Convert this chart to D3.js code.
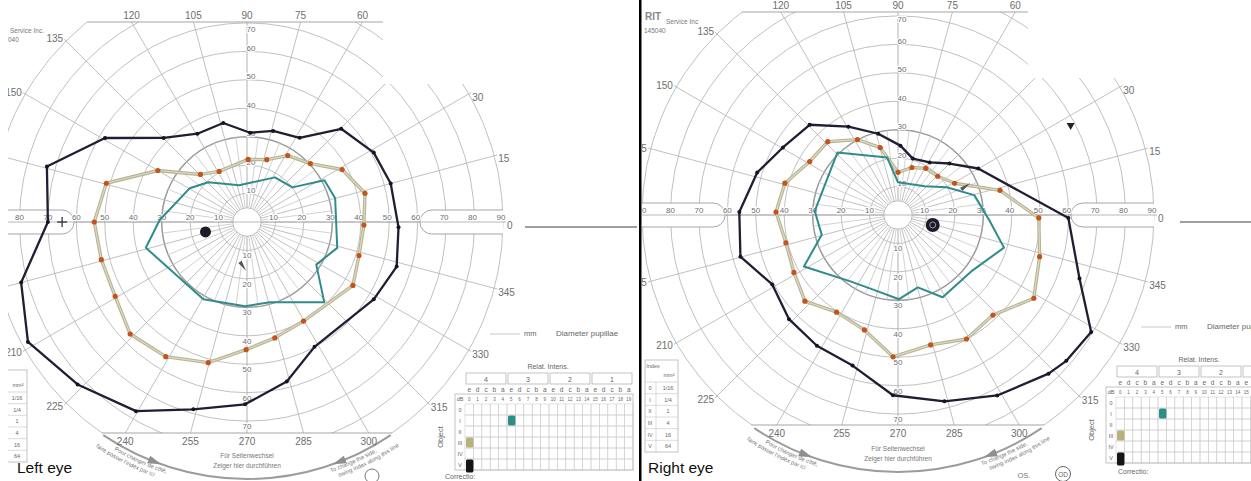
<!DOCTYPE html>
<html><head><meta charset="utf-8">
<script src="https://cdn.jsdelivr.net/npm/d3@7"></script>
<style>
body{margin:0;background:#fff}
svg{display:block;font-family:"Liberation Sans",Arial,Helvetica,sans-serif}
</style>
</head><body>
<svg id="c" width="1251" height="481"></svg>
<script>
// ---------------- DATA ----------------
const ringDegrees = [5, 10, 20, 30, 40, 50, 60, 70, 80, 90];
const ringLabelDegrees = [10, 20, 30, 40, 50, 60, 70, 80, 90];
const ringLabels = ["10", "20", "30", "40", "50", "60", "70", "80", "90"];
const meridianDegrees = [0, 15, 30, 45, 60, 75, 90, 105, 120, 135, 150, 165, 180, 195, 210, 225, 240, 255, 270, 285, 300, 315, 330, 345];
const meridianLabels = ["0", "15", "30", "45", "60", "75", "90", "105", "120", "135", "150", "165", "180", "195", "210", "225", "240", "255", "270", "285", "300", "315", "330", "345"];
const spokeDegrees = [7.5, 22.5, 37.5, 52.5, 67.5, 82.5, 97.5, 112.5, 127.5, 142.5, 157.5, 172.5, 187.5, 202.5, 217.5, 232.5, 247.5, 262.5, 277.5, 292.5, 307.5, 322.5, 337.5, 352.5];

// isopters: [meridian in degrees, eccentricity in degrees]
const leftV4e = [[164.5, 73], [149.4, 58], [134.7, 41.6], [119.3, 35.6], [103.5, 35.8], [88, 31.4], [74, 33.3], [58, 34.9], [44.7, 46.6], [28.7, 50.8], [15, 52.3], [-2, 53.3], [-16.6, 54.9], [-31.4, 52.2], [-61.6, 49.9], [-76, 57.8], [-90.6, 64.1], [-106, 68.5], [-120.4, 77.1], [-136.2, 82.5], [-151.3, 87.8], [-165, 82.2], [-180, 70]];
const leftIII4e = [[164.6, 51.3], [150, 36.2], [134.4, 23.4], [118.8, 20.3], [89, 22], [72.4, 23], [58.5, 27.4], [42.7, 30.3], [28.9, 38.2], [13.7, 42.7], [-1.5, 41.1], [-16.7, 41.1], [-30.9, 43.4], [-60.3, 40.1], [-76.5, 41.9], [-90.4, 44.9], [-105.4, 51.3], [-121.1, 55.3], [-136.2, 56.9], [-150.6, 53.2], [-165.5, 52.9], [180, 53.7]];
const leftI4e = [[149.6, 23.4], [134.3, 19.5], [102, 13.2], [88.5, 13.6], [58, 18.5], [37.3, 20.1], [28.3, 30.9], [15.1, 32.1], [-16, 33], [-31.6, 28.6], [-46.1, 39.2], [-74.1, 29.3], [-91.3, 29.6], [-119.4, 31.2], [-165.7, 36.7], [178.7, 30.7]];
const rightV4e = [[134.4, 44.4], [119.3, 35.6], [103.7, 29.4], [88, 24.4], [75.3, 20.5], [58.9, 21.6], [45, 25.6], [30.1, 32.6], [-1, 59.9], [-19.3, 67.6], [-31.2, 79.4], [-40.9, 78.3], [-46.5, 76.9], [-61.2, 72.4], [-76, 67.5], [-91.6, 63.4], [-106.8, 55.3], [-121.8, 54.1], [-136.3, 53], [-151.1, 50.5], [-165.2, 57.3], [178.9, 55.8], [163.2, 51.7], [149.6, 46.9]];
const rightIII4e = [[133.8, 35.7], [118.3, 30.1], [104.8, 24.5], [90, 15], [73.7, 17.4], [59.2, 19.1], [44.3, 19.5], [29.3, 22.8], [13.6, 36.9], [-1.2, 49.5], [-16.4, 51.9], [-31.5, 56], [-46.5, 48.5], [-61.1, 49.8], [-75.9, 47.1], [-92, 49.9], [-106.3, 42.1], [-122.3, 40.4], [-137.2, 44.6], [-151.1, 41.8], [-166.1, 40.6], [178.6, 42.9], [164.3, 41.3], [148.8, 36.3]];
const rightI4e = [[134.1, 30.6], [100.7, 20.6], [90, 11.5], [47, 13.8], [29.7, 19.7], [14.6, 27.7], [-3.1, 32.1], [-17.1, 39], [-37.6, 32.5], [-61.5, 32.9], [-74.7, 26.4], [-89.3, 29.6], [-106.8, 27.7], [-125.6, 28.7], [-151.3, 37.7], [-165.4, 27.7], [177.3, 29.3], [154.1, 27.9]];
const leftBlindSpot = [193.4, 15];
const rightBlindSpot = [-16, 12.7];
const leftPointer = [260, 14.2];
const rightPointer = [22, 24];
const leftFixMark = [180, 65];
const rightTriMark = [27.3, 68.3];

// stimulus key table
const intensityGroups = ["4", "3", "2", "1"];
const intensityLetters = ["e", "d", "c", "b", "a", "e", "d", "c", "b", "a", "e", "d", "c", "b", "a", "e", "d", "c", "b", "a"];
const dBValues = ["0", "1", "2", "3", "4", "5", "6", "7", "8", "9", "10", "11", "12", "13", "14", "15", "16", "17", "18", "19"];
const objectSizes = ["0", "I", "II", "III", "IV", "V"];
const objectAreas = ["1/16", "1/4", "1", "4", "16", "64"];
const stimulusObjects = ["V", "III", "I"];
const stimulusDb = ["0", "0", "5"];

// ---------------- STYLE ----------------
const isoStyle = {
  V: {stroke: "#1e1e34", width: 2.3},
  III: {stroke: "#b9b48c", width: 3.4, dot: "#c4541c"},
  I: {stroke: "#2f8c8a", width: 2}
};
const stimColors = ["#151515", "#b7b27a", "#2c8f87"];
const gridColor = "#b9b9b9";
const labelColor = "#6e6e6e";

const svg = d3.select("#c");
const W = 1251, H = 481;
const R90 = 256;
const rScale = d3.scaleLinear().domain([0, 90]).range([0, R90]);
const ang = d => (90 - d) * Math.PI / 180;
const pt = (deg, ecc) => d3.pointRadial(ang(deg), rScale(ecc));

const panels = [
  {id: "L", cx: 247, cy: 222, top: 22, bottom: 433, x0: 8, x1: 637, patch: [383, 0, 254, 84],
   v4e: leftV4e, iii4e: leftIII4e, i4e: leftI4e, blind: leftBlindSpot, blindRing: false,
   pointer: leftPointer, title: "Left eye", tx: 17, ext: [525, 637], extY: 5,
   rel: [455, 367], mm: [-6, 370], dia: [490, 334], corr: [445, 479]},
  {id: "R", cx: 898, cy: 215, top: 12, bottom: 425, x0: 642, x1: 1251, patch: [1028, 0, 223, 78],
   v4e: rightV4e, iii4e: rightIII4e, i4e: rightI4e, blind: rightBlindSpot, blindRing: true,
   pointer: rightPointer, title: "Right eye", tx: 648, ext: [1180, 1251], extY: 7,
   rel: [1106, 360], mm: [645, 360], dia: [1141, 327], corr: [1118, 474]}
];

const defs = svg.append("defs");
const inPatch = (p, x, y) => x > p.patch[0] - 4 && x < p.patch[0] + p.patch[2] && y < p.patch[1] + p.patch[3] - 2;

function drawPanel(p) {
  defs.append("clipPath").attr("id", "pc" + p.id).append("rect")
    .attr("x", p.x0).attr("y", 0).attr("width", p.x1 - p.x0).attr("height", H);
  defs.append("clipPath").attr("id", "gc" + p.id).append("rect")
    .attr("x", p.x0).attr("y", p.top).attr("width", p.x1 - p.x0).attr("height", p.bottom - p.top);

  const root = svg.append("g").attr("clip-path", `url(#pc${p.id})`);
  const gridWrap = root.append("g").attr("clip-path", `url(#gc${p.id})`);
  const grid = gridWrap.append("g").attr("transform", `translate(${p.cx},${p.cy})`);

  grid.selectAll("circle.ring").data(ringDegrees).join("circle").attr("class", "ring")
    .attr("r", d => rScale(d)).attr("fill", "none").attr("stroke", d => d === 30 ? "#9a9a9a" : gridColor)
    .attr("stroke-width", d => d === 30 ? 1.5 : 0.9);
  grid.selectAll("line.mer").data(meridianDegrees).join("line").attr("class", "mer")
    .attr("x1", d => pt(d, 5)[0]).attr("y1", d => pt(d, 5)[1])
    .attr("x2", d => pt(d, 91)[0]).attr("y2", d => pt(d, 91)[1])
    .attr("stroke", d => d % 90 === 0 ? "#a8a8a8" : gridColor).attr("stroke-width", 0.9);
  grid.selectAll("line.spk").data(spokeDegrees).join("line").attr("class", "spk")
    .attr("x1", d => pt(d, 5)[0]).attr("y1", d => pt(d, 5)[1])
    .attr("x2", d => pt(d, 30)[0]).attr("y2", d => pt(d, 30)[1])
    .attr("stroke", "#c6c6c6").attr("stroke-width", 0.8);

  // flat top/bottom edges of the form
  const topDx = Math.sqrt(R90 * R90 - (p.cy - p.top) ** 2);
  const botDx = Math.sqrt(R90 * R90 - (p.bottom - p.cy) ** 2);
  root.append("line").attr("x1", p.cx - topDx).attr("x2", p.cx + topDx).attr("y1", p.top).attr("y2", p.top)
    .attr("stroke", "#a5a5a5").attr("stroke-width", 1);
  root.append("line").attr("x1", p.cx - botDx).attr("x2", p.cx + botDx).attr("y1", p.bottom).attr("y2", p.bottom)
    .attr("stroke", "#a5a5a5").attr("stroke-width", 1);

  // slots on horizontal axis (65°..90°)
  const g0 = root.append("g").attr("transform", `translate(${p.cx},${p.cy})`);
  const rs = rScale(65), re = rScale(90), hh = 12;
  g0.append("path").attr("d", `M${re},${-hh}L${rs},${-hh}A${hh},${hh} 0 0 0 ${rs},${hh}L${re},${hh}`)
    .attr("fill", "#fff").attr("stroke", "#a5a5a5").attr("stroke-width", 1);
  g0.append("path").attr("d", `M${-rScale(96)},${-hh}L${-rs},${-hh}A${hh},${hh} 0 0 1 ${-rs},${hh}L${-rScale(96)},${hh}`)
    .attr("fill", "#fff").attr("stroke", "#a5a5a5").attr("stroke-width", 1);
  g0.append("line").attr("x1", -rScale(96)).attr("x2", rScale(90)).attr("y1", 0).attr("y2", 0)
    .attr("stroke", "#b0b0b0").attr("stroke-width", 0.9);

  // ring labels
  const lab = g0.append("g").attr("font-size", 8).attr("fill", labelColor).attr("text-anchor", "middle")
    .attr("stroke", "#fff").attr("stroke-width", 2.4).attr("paint-order", "stroke").attr("dominant-baseline", "central");
  const visible = x => x + 6 > p.x0 && x - 6 < p.x1;
  ringLabelDegrees.forEach((d, i) => {
    if (visible(p.cx + rScale(d) - 2)) lab.append("text").attr("x", rScale(d) - 2).attr("y", -5).text(ringLabels[i]);
    if (visible(p.cx - rScale(d))) lab.append("text").attr("x", -rScale(d)).attr("y", -5).text(ringLabels[i]);
    if (d <= 70) {
      const yTop = Math.max(-(rScale(d) + 3), -(p.cy - p.top) + 7);
      lab.append("text").attr("x", 4).attr("y", yTop).text(ringLabels[i]);
      const yBot = Math.min(rScale(d) + 5.5, p.bottom - p.cy - 6);
      lab.append("text").attr("x", 0).attr("y", yBot).text(ringLabels[i]);
    }
  });

  // meridian labels
  const ml = root.append("g").attr("font-size", 10).attr("fill", labelColor);
  meridianDegrees.forEach((d, i) => {
    const a = d * Math.PI / 180, s = Math.sin(a), c = Math.cos(a);
    let x, y, anchor = "middle";
    if (262 * s > (p.cy - p.top) - 2) {
      const t = (p.cy - p.top) / s; x = p.cx + t * c; y = p.top - 3;
    } else if (-262 * s > (p.bottom - p.cy)) {
      const t = (p.bottom - p.cy) / -s; x = p.cx + t * c; y = p.bottom + 12;
    } else {
      x = p.cx + 260 * c; y = p.cy - 260 * s + 4 + (c > 0 ? 3 + 3 * s : 0);
      anchor = c > 0.3 ? "start" : (c < -0.3 ? "end" : "middle");
    }
    const w = meridianLabels[i].length * 5.6;
    const xl = anchor === "start" ? x : anchor === "end" ? x - w : x - w / 2;
    if (xl + w < p.x0 + 2 || xl > p.x1 - 2) return;
    if (inPatch(p, xl + w / 2, y - 4)) return;
    ml.append("text").attr("x", x).attr("y", y).attr("text-anchor", anchor).text(meridianLabels[i]);
  });

  // extension line to the right of "0"
  root.append("line").attr("x1", p.ext[0]).attr("x2", p.ext[1]).attr("y1", p.cy + p.extY).attr("y2", p.cy + p.extY)
    .attr("stroke", "#808080").attr("stroke-width", 1.5);

  // white patch (erased header)
  root.append("rect").attr("x", p.patch[0]).attr("y", p.patch[1]).attr("width", p.patch[2]).attr("height", p.patch[3]).attr("fill", "#fff");

  // side-change arrow along the 90° arc
  const arcR = 257;
  const arcPath = (r, a0, a1) => {
    const p0 = d3.pointRadial(ang(a0), r), p1 = d3.pointRadial(ang(a1), r);
    return `M${p0[0]},${p0[1]}A${r},${r} 0 0 0 ${p1[0]},${p1[1]}`;
  };
  g0.append("path").attr("d", arcPath(arcR, 236, 304)).attr("fill", "none").attr("stroke", "#9c9c9c").attr("stroke-width", 2);
  [[250.5, 247.5], [289.5, 292.5]].forEach(([tip, base]) => {
    const q = [d3.pointRadial(ang(tip), arcR), d3.pointRadial(ang(base), arcR - 4), d3.pointRadial(ang(base), arcR + 4)];
    g0.append("path").attr("d", "M" + q.join("L") + "Z").attr("fill", "#8f8f8f");
  });
  const tp = [
    {r: 264, a0: 234, a1: 258, t: "Pour changer de côté,"},
    {r: 271, a0: 231, a1: 255, t: "faire passer l'index par ici"},
    {r: 264, a0: 282, a1: 306, t: "To change the side,"},
    {r: 271, a0: 285, a1: 309, t: "swing index along this line"}
  ];
  tp.forEach((d, i) => {
    const id = `tp${p.id}${i}`;
    defs.append("path").attr("id", id).attr("d", arcPath(d.r, d.a0, d.a1))
      .attr("transform", `translate(${p.cx},${p.cy})`);
    root.append("text").attr("font-size", 5.8).attr("fill", "#777").append("textPath")
      .attr("href", "#" + id).attr("startOffset", "50%").attr("text-anchor", "middle").text(d.t);
  });
  g0.append("text").attr("x", 0).attr("y", arcR - 21).attr("text-anchor", "middle").attr("font-size", 6.5).attr("fill", "#777").text("Für Seitenwechsel");
  g0.append("text").attr("x", 0).attr("y", arcR - 11).attr("text-anchor", "middle").attr("font-size", 6.5).attr("fill", "#777").text("Zeiger hier durchführen");

  // isopters
  const iso = root.append("g").attr("transform", `translate(${p.cx},${p.cy})`);
  const line = d3.lineRadial().angle(d => ang(d[0])).radius(d => rScale(d[1])).curve(d3.curveLinearClosed);
  iso.append("path").datum(p.v4e).attr("d", line).attr("fill", "none")
    .attr("stroke", isoStyle.V.stroke).attr("stroke-width", isoStyle.V.width).attr("stroke-linejoin", "round");
  iso.selectAll("circle.v").data(p.v4e).join("circle").attr("class", "v")
    .attr("cx", d => pt(d[0], d[1])[0]).attr("cy", d => pt(d[0], d[1])[1]).attr("r", 2).attr("fill", "#141424");
  iso.append("path").datum(p.iii4e).attr("d", line).attr("fill", "none")
    .attr("stroke", isoStyle.III.stroke).attr("stroke-width", isoStyle.III.width).attr("stroke-linejoin", "round");
  iso.append("path").datum(p.iii4e).attr("d", line).attr("fill", "none")
    .attr("stroke", "#d9d8cf").attr("stroke-width", 1.2).attr("stroke-linejoin", "round");
  iso.selectAll("circle.iii").data(p.iii4e).join("circle").attr("class", "iii")
    .attr("cx", d => pt(d[0], d[1])[0]).attr("cy", d => pt(d[0], d[1])[1]).attr("r", 2.6).attr("fill", isoStyle.III.dot);
  iso.append("path").datum(p.i4e).attr("d", line).attr("fill", "none")
    .attr("stroke", isoStyle.I.stroke).attr("stroke-width", isoStyle.I.width).attr("stroke-linejoin", "round");

  // blind spot
  const bs = pt(p.blind[0], p.blind[1]);
  iso.append("circle").attr("cx", bs[0]).attr("cy", bs[1]).attr("r", p.blindRing ? 7 : 5.5).attr("fill", "#1c1c28");
  if (p.blindRing) iso.append("circle").attr("cx", bs[0]).attr("cy", bs[1]).attr("r", 3).attr("fill", "none").attr("stroke", "#9a9ab0").attr("stroke-width", 1);

  // small pointer mark
  const pp = pt(p.pointer[0], p.pointer[1]);
  const pa = p.id === "L" ? 56 : -35;
  iso.append("path").attr("d", "M0,-2L11,0L0,2Z").attr("fill", "#555")
    .attr("transform", `translate(${pp[0]},${pp[1]}) rotate(${pa})`);

  // stimulus key table (Relat. Intens.)
  const [rx, ry] = p.rel;
  const tbl = root.append("g").attr("font-size", 5.5).attr("fill", "#666").attr("text-anchor", "middle");
  const colX = d3.scaleBand().domain(dBValues).range([rx + 10, rx + 178]);
  const grpX = d3.scaleBand().domain(intensityGroups).range([rx + 10, rx + 178]);
  const rowY = d3.scaleBand().domain(objectSizes).range([ry + 37, ry + 103]);
  tbl.append("text").attr("x", rx + 93).attr("y", ry + 2).attr("font-size", 7).text("Relat. Intens.");
  grpX.domain().forEach(gk => {
    tbl.append("rect").attr("x", grpX(gk) + 1).attr("y", ry + 6).attr("width", grpX.bandwidth() - 2).attr("height", 11)
      .attr("fill", "none").attr("stroke", "#aaa").attr("stroke-width", 0.7);
    tbl.append("text").attr("x", grpX(gk) + grpX.bandwidth() / 2).attr("y", ry + 14.5).attr("font-size", 7).text(gk);
  });
  dBValues.forEach((v, i) => {
    tbl.append("text").attr("x", colX(v) + colX.bandwidth() / 2).attr("y", ry + 24.5).attr("font-size", 6.5).text(intensityLetters[i]);
    tbl.append("text").attr("x", colX(v) + colX.bandwidth() / 2).attr("y", ry + 34).attr("font-size", 4.5).text(v);
  });
  tbl.append("text").attr("x", rx + 5).attr("y", ry + 34).attr("font-size", 5.5).text("dB");
  objectSizes.forEach(o => {
    tbl.append("text").attr("x", rx + 5).attr("y", rowY(o) + rowY.bandwidth() / 2 + 2).attr("font-size", 5.5).text(o);
    dBValues.forEach(v => {
      tbl.append("rect").attr("x", colX(v)).attr("y", rowY(o)).attr("width", colX.bandwidth()).attr("height", rowY.bandwidth())
        .attr("fill", "none").attr("stroke", "#cfcfcf").attr("stroke-width", 0.6);
    });
  });
  tbl.append("rect").attr("x", rx).attr("y", ry + 27).attr("width", 178).attr("height", 76)
    .attr("fill", "none").attr("stroke", "#b5b5b5").attr("stroke-width", 0.8);
  tbl.append("text").attr("transform", `translate(${rx - 12},${ry + 70}) rotate(-90)`).attr("font-size", 7.5).attr("fill", "#666").text("Object");
  stimulusObjects.forEach((o, i) => {
    tbl.append("rect").attr("x", colX(stimulusDb[i]) + 1).attr("y", rowY(o) + 0.5)
      .attr("width", colX.bandwidth() - 1).attr("height", rowY.bandwidth() + (o === "V" ? 2 : -1))
      .attr("rx", 1.5).attr("fill", stimColors[i]);
  });

  // object / mm² table
  const [mx, my] = p.mm;
  const mt = root.append("g").attr("font-size", 5.5).attr("fill", "#666").attr("text-anchor", "middle");
  mt.append("rect").attr("x", mx).attr("y", my).attr("width", 33).attr("height", 92)
    .attr("fill", "none").attr("stroke", "#b5b5b5").attr("stroke-width", 0.8);
  if (mx + 8 > p.x0) mt.append("text").attr("x", mx + 8).attr("y", my + 8).text("Index");
  mt.append("text").attr("x", mx + 24).attr("y", my + 17).text("mm²");
  const mRow = d3.scaleBand().domain(objectSizes).range([my + 22, my + 92]);
  objectSizes.forEach((o, i) => {
    mt.append("line").attr("x1", mx).attr("x2", mx + 33).attr("y1", mRow(o)).attr("y2", mRow(o)).attr("stroke", "#c5c5c5").attr("stroke-width", 0.6);
    if (mx + 5 > p.x0) mt.append("text").attr("x", mx + 5).attr("y", mRow(o) + mRow.bandwidth() / 2 + 2).text(o);
    mt.append("text").attr("x", mx + 23).attr("y", mRow(o) + mRow.bandwidth() / 2 + 2).text(objectAreas[i]);
  });
  mt.append("line").attr("x1", mx + 11).attr("x2", mx + 11).attr("y1", my + 22).attr("y2", my + 92).attr("stroke", "#c5c5c5").attr("stroke-width", 0.6);

  // pupil diameter
  const [dx, dy] = p.dia;
  root.append("line").attr("x1", dx).attr("x2", dx + 30).attr("y1", dy).attr("y2", dy).attr("stroke", "#c8c8c8").attr("stroke-width", 1);
  root.append("text").attr("x", dx + 34).attr("y", dy + 2).attr("font-size", 7.5).attr("fill", "#666").text("mm");
  root.append("text").attr("x", dx + 66).attr("y", dy + 2).attr("font-size", 8).attr("fill", "#666").text("Diameter pupillae");
  root.append("text").attr("x", p.corr[0]).attr("y", p.corr[1]).attr("font-size", 7).attr("fill", "#666").text("Correctio:");

  // eye caption
  root.append("text").attr("x", p.tx).attr("y", 473).attr("font-size", 15.5).attr("fill", "#111").text(p.title);
}

panels.forEach(drawPanel);

// fixation cross (left) and triangle mark (right)
{
  const a = pt(leftFixMark[0], leftFixMark[1]);
  const g = svg.append("g").attr("transform", `translate(${247 + a[0]},${222 + a[1]})`).attr("stroke", "#333").attr("stroke-width", 1.3);
  g.append("line").attr("x1", -5).attr("x2", 5).attr("y1", 0).attr("y2", 0);
  g.append("line").attr("x1", 0).attr("x2", 0).attr("y1", -5).attr("y2", 5);
  const b = pt(rightTriMark[0], rightTriMark[1]);
  svg.append("path").attr("d", "M-4,-3L4,-3L0,4Z").attr("fill", "#222").attr("transform", `translate(${898 + b[0]},${215 + b[1]})`);
}

// header fragments
svg.append("text").attr("x", 10).attr("y", 33).attr("font-size", 6.5).attr("fill", "#777").text("Service Inc.");
svg.append("text").attr("x", 8).attr("y", 42).attr("font-size", 6.5).attr("fill", "#777").text("040");
svg.append("text").attr("x", 645).attr("y", 20).attr("font-size", 10).attr("font-weight", "bold").attr("fill", "#888").text("RIT");
svg.append("text").attr("x", 666).attr("y", 24).attr("font-size", 6.5).attr("fill", "#777").text("Service Inc");
svg.append("text").attr("x", 644).attr("y", 33).attr("font-size", 6.5).attr("fill", "#777").text("145040");

// eye-side marks
svg.append("circle").attr("cx", 372).attr("cy", 476).attr("r", 7).attr("fill", "none").attr("stroke", "#777");
svg.append("text").attr("x", 1024).attr("y", 478).attr("text-anchor", "middle").attr("font-size", 7.5).attr("fill", "#777").text("OS.");
svg.append("circle").attr("cx", 1063).attr("cy", 474).attr("r", 7.5).attr("fill", "none").attr("stroke", "#666");
svg.append("text").attr("x", 1063).attr("y", 476.5).attr("text-anchor", "middle").attr("font-size", 6.5).attr("fill", "#666").text("OD");

// divider
svg.append("rect").attr("x", 639).attr("y", 0).attr("width", 2.5).attr("height", H).attr("fill", "#000");
</script>
</body></html>
